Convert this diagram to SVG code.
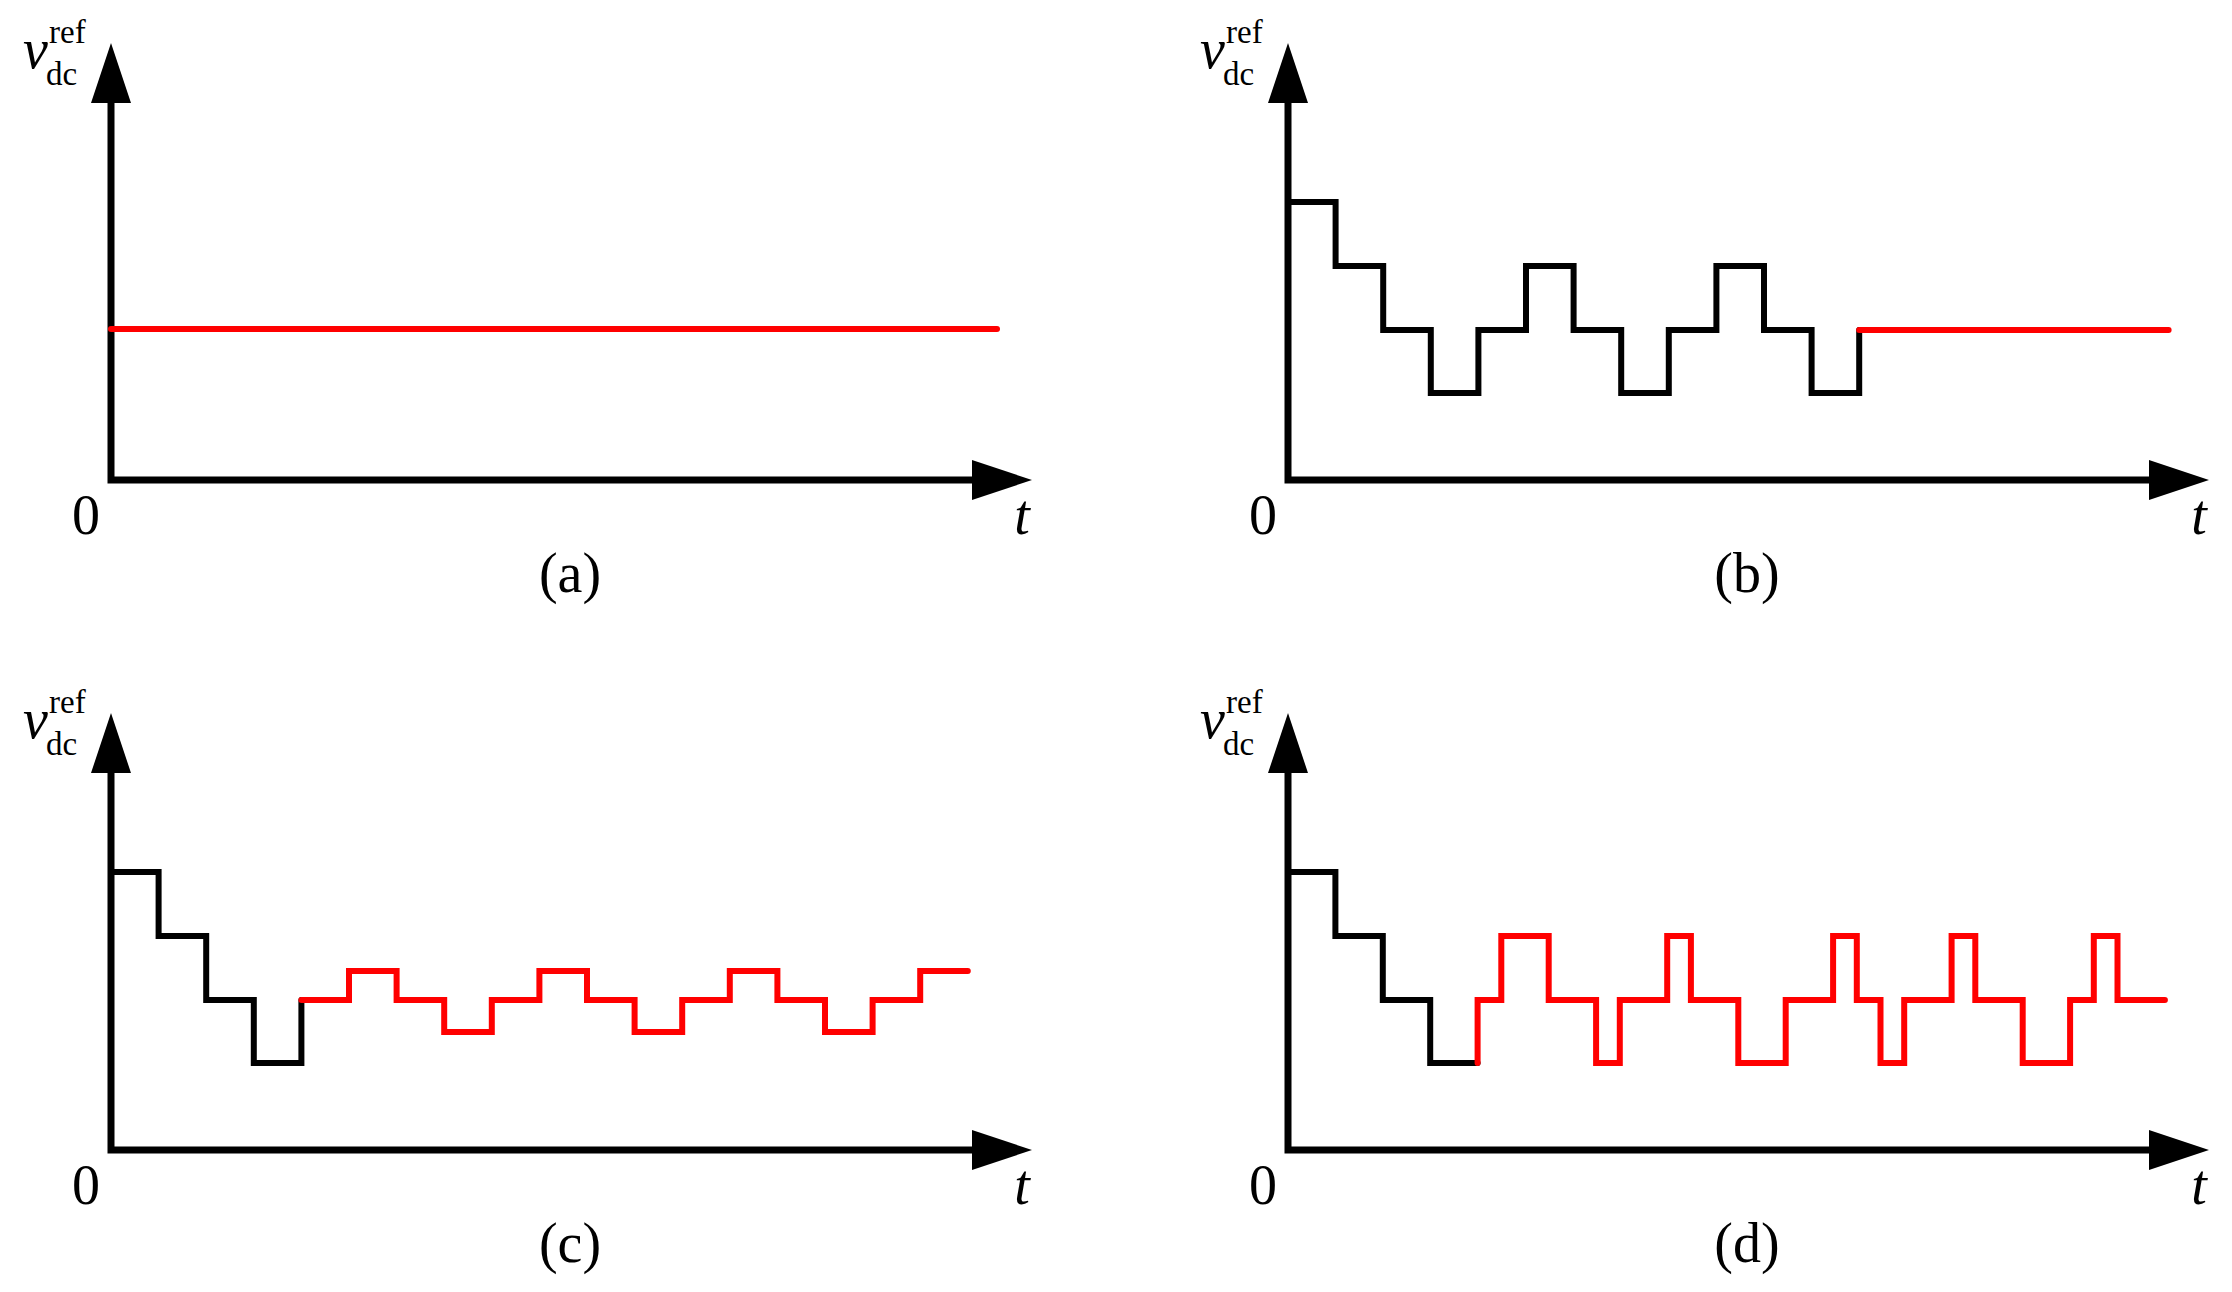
<svg xmlns="http://www.w3.org/2000/svg" width="2232" height="1292" viewBox="0 0 2232 1292">
<style>
.ax{fill:none;stroke:#000;stroke-width:7}
.ah{fill:#000}
.bk{fill:none;stroke:#000;stroke-width:6;stroke-linejoin:miter;stroke-linecap:round}
.rd{fill:none;stroke:#f00;stroke-width:6;stroke-linejoin:miter;stroke-linecap:round}
text{font-family:"Liberation Serif","Times New Roman",serif;fill:#000}
.lb{font-size:56px}
.it{font-style:italic}
.sm{font-size:33px}
</style>
<defs>
<g id="axes">
<path class="ax" d="M111,100 V480 H975"/>
<path class="ah" d="M111,43 L131,103 L91,103 Z"/>
<path class="ah" d="M1032,480 L972,460 L972,500 Z"/>
<text class="lb" x="86" y="534" text-anchor="middle">0</text>
<text class="lb it" x="1022" y="534" text-anchor="middle">t</text>
<text class="lb it" x="23" y="68">v</text>
<text class="sm" x="49" y="43">ref</text>
<text class="sm" x="46" y="85">dc</text>
</g>
</defs>
<g id="panel-a">
<use href="#axes"/>
<path class="rd" d="M111,329 H997"/>
<text class="lb" x="570" y="592" text-anchor="middle">(a)</text>
</g>
<g id="panel-b" transform="translate(1177,0)">
<use href="#axes"/>
<path class="bk" d="M111,202 H158.6 V266 H206.2 V330 H253.8 V393 H301.4 V330 H349 V266 H396.6 V330 H444.2 V393 H491.8 V330 H539.4 V266 H587 V330 H634.6 V393 H682.2 V330"/>
<path class="rd" d="M682.2,330 H991.6"/>
<text class="lb" x="570" y="592" text-anchor="middle">(b)</text>
</g>
<g id="panel-c" transform="translate(0,670)">
<use href="#axes"/>
<path class="bk" d="M111,202 H158.6 V266 H206.2 V330 H253.8 V393 H301.4 V330"/>
<path class="rd" d="M301.4,330 H349 V301 H396.6 V330 H444.2 V362 H491.8 V330 H539.4 V301 H587 V330 H634.6 V362 H682.2 V330 H729.8 V301 H777.4 V330 H825 V362 H872.6 V330 H920.2 V301 H967.8"/>
<text class="lb" x="570" y="592" text-anchor="middle">(c)</text>
</g>
<g id="panel-d" transform="translate(1177,670)">
<use href="#axes"/>
<path class="bk" d="M111,202 H158.4 V266 H205.8 V330 H253.2 V393 H300.6"/>
<path class="rd" d="M300.6,393 V330 H324.3 V266 H371.7 V330 H419.1 V393 H442.8 V330 H490.2 V266 H513.9 V330 H561.3 V393 H608.7 V330 H656.1 V266 H679.8 V330 H703.5 V393 H727.2 V330 H774.6 V266 H798.3 V330 H845.7 V393 H893.1 V330 H916.8 V266 H940.5 V330 H987.9"/>
<text class="lb" x="570" y="592" text-anchor="middle">(d)</text>
</g>
</svg>
